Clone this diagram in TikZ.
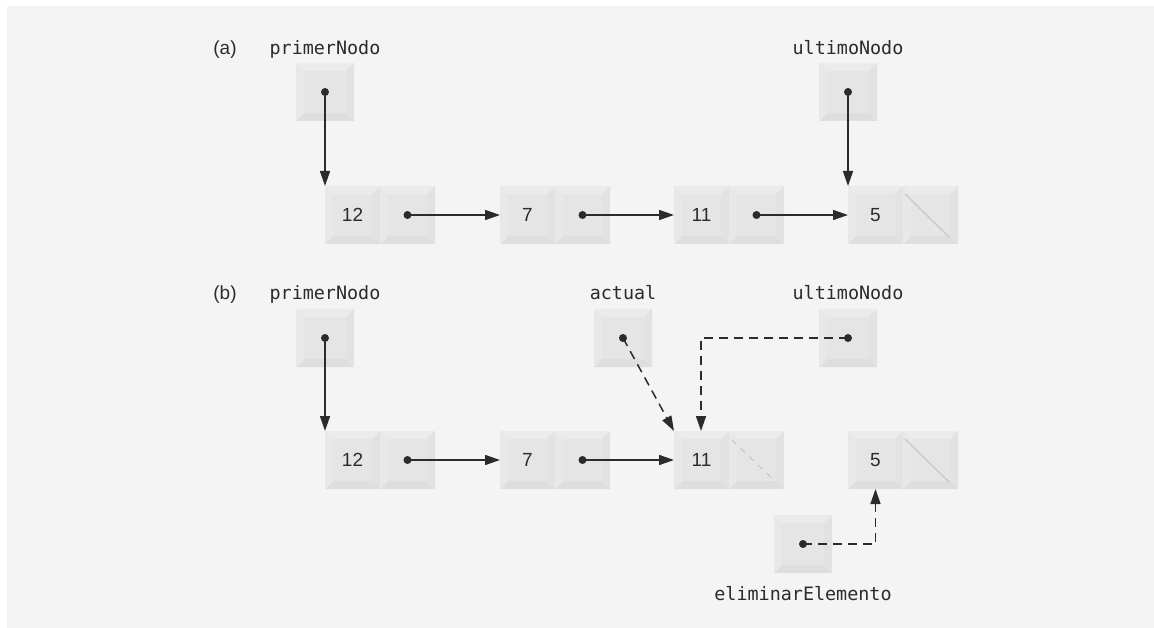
\documentclass[tikz,border=0pt]{standalone}
\usepackage{fontspec}
\setmainfont{Liberation Sans}
\setmonofont{DejaVu Sans Mono}
\usetikzlibrary{arrows.meta,positioning}
\definecolor{llbg}{HTML}{F4F4F4}
\definecolor{llface}{HTML}{E5E5E6}
\definecolor{lltop}{HTML}{EBEBEB}
\definecolor{llleft}{HTML}{E8E8E9}
\definecolor{llright}{HTML}{E2E2E3}
\definecolor{llbottom}{HTML}{DEDEDF}
\definecolor{llink}{HTML}{2B2B2B}
\definecolor{llnullc}{HTML}{C6C6C7}
\tikzstyle{llbevel}=[inner sep=0pt,outer sep=0pt,text=llink,font=\fontsize{19}{22}\selectfont,
  path picture={
    \coordinate (bvnw) at (path picture bounding box.north west);
    \coordinate (bvne) at (path picture bounding box.north east);
    \coordinate (bvsw) at (path picture bounding box.south west);
    \coordinate (bvse) at (path picture bounding box.south east);
    \fill[lltop] (bvnw) -- (bvne) -- ([shift={(-8pt,-8pt)}]bvne) -- ([shift={(8pt,-8pt)}]bvnw) -- cycle;
    \fill[llbottom] (bvsw) -- (bvse) -- ([shift={(-8pt,8pt)}]bvse) -- ([shift={(8pt,8pt)}]bvsw) -- cycle;
    \fill[llleft] (bvnw) -- (bvsw) -- ([shift={(8pt,8pt)}]bvsw) -- ([shift={(8pt,-8pt)}]bvnw) -- cycle;
    \fill[llright] (bvne) -- (bvse) -- ([shift={(-8pt,8pt)}]bvse) -- ([shift={(-8pt,-8pt)}]bvne) -- cycle;
    \fill[llface] ([shift={(8pt,-8pt)}]bvnw) rectangle ([shift={(-8pt,8pt)}]bvse);
  }]
\tikzstyle{llcell}=[llbevel,minimum width=55pt,minimum height=58pt]
\tikzstyle{llptr}=[llbevel,minimum width=58pt,minimum height=58pt]
\tikzstyle{llname}=[anchor=base,text=llink,inner sep=0pt,font=\ttfamily\fontsize{18.4}{22}\selectfont]
\tikzstyle{lltag}=[anchor=base,text=llink,inner sep=0pt,font=\fontsize{19}{22}\selectfont]
\tikzstyle{llarrow}=[-{Triangle[length=15pt,width=10pt]},draw=llink,line width=1.5pt]
\tikzstyle{lldashed}=[dash pattern=on 9pt off 6pt]
\tikzstyle{lldot}=[fill=llink]
\tikzstyle{llnull}=[draw=llnullc,line width=1.2pt]

\begin{document}
\begin{tikzpicture}[x=1pt,y=-1pt]
    \useasboundingbox (0,0) rectangle (1154,628);
    \fill[white] (0,0) rectangle (1154,628);
    \fill[llbg] (7,6) rectangle (1154,628);

    % ---- (a) ----
    \node[lltag]  (tagA) at (225,54.5) {(a)};
    \node[llname] (lpA)  at (325,54.5) {primerNodo};
    \node[llname] (luA)  at (848,54.5) {ultimoNodo};
    \node[llptr] (pA) at (325,92) {};
    \node[llptr] (uA) at (848,92) {};

    \node[llcell] (a12) at (352.5,215) {12};  \node[llcell] (a12n) at (407.5,215) {};
    \node[llcell] (a7)  at (527.5,215) {7};   \node[llcell] (a7n)  at (582.5,215) {};
    \node[llcell] (a11) at (701.5,215) {11};  \node[llcell] (a11n) at (756.5,215) {};
    \node[llcell] (a5)  at (875.5,215) {5};   \node[llcell] (a5n)  at (930.5,215) {};
    \draw[llnull] ([shift={(2pt,-8pt)}]a5n.north west) -- ([shift={(-9pt,7pt)}]a5n.south east);

    \fill[lldot] (pA.center) circle (4pt);
    \draw[llarrow] (pA.center) -- (a12.north west);
    \fill[lldot] (uA.center) circle (4pt);
    \draw[llarrow] (uA.center) -- (a5.north west);

    % ---- (b) ----
    \node[lltag]  (tagB) at (225,300) {(b)};
    \node[llname] (lpB)  at (325,300) {primerNodo};
    \node[llname] (laB)  at (623,300) {actual};
    \node[llname] (luB)  at (848,300) {ultimoNodo};
    \node[llname] (leB)  at (803,600.5) {eliminarElemento};
    \node[llptr] (pB) at (325,338) {};
    \node[llptr] (aB) at (623,338) {};
    \node[llptr] (uB) at (848,338) {};
    \node[llptr] (eB) at (803,544) {};

    \node[llcell] (b12) at (352.5,460) {12};  \node[llcell] (b12n) at (407.5,460) {};
    \node[llcell] (b7)  at (527.5,460) {7};   \node[llcell] (b7n)  at (582.5,460) {};
    \node[llcell] (b11) at (701.5,460) {11};  \node[llcell] (b11n) at (756.5,460) {};
    \node[llcell] (b5)  at (875.5,460) {5};   \node[llcell] (b5n)  at (930.5,460) {};
    \draw[llnull,line width=1pt,dash pattern=on 6pt off 6pt] ([shift={(3pt,-9pt)}]b11n.north west) -- ([shift={(-8pt,7pt)}]b11n.south east);
    \draw[llnull] ([shift={(2pt,-8pt)}]b5n.north west) -- ([shift={(-9pt,7pt)}]b5n.south east);
    \coordinate (b11top) at ([xshift=27pt]b11.north west);

    \fill[lldot] (pB.center) circle (4pt);
    \draw[llarrow] (pB.center) -- (b12.north west);
    \fill[lldot] (aB.center) circle (4pt);
    \draw[llarrow,lldashed] (aB.center) -- (b11.north west);
    \fill[lldot] (uB.center) circle (4pt);
    \draw[llarrow,lldashed] (uB.center) -| (b11top);
    \fill[lldot] (eB.center) circle (4pt);
    \draw[llarrow,lldashed] (eB.center) -| (b5.south);

    % next links
    \foreach \a/\b in {a12n/a7,a7n/a11,a11n/a5,b12n/b7,b7n/b11} {
      \fill[lldot] (\a.center) circle (4pt);
      \draw[llarrow] (\a.center) -- (\b.west);
    }
\end{tikzpicture}
\end{document}
